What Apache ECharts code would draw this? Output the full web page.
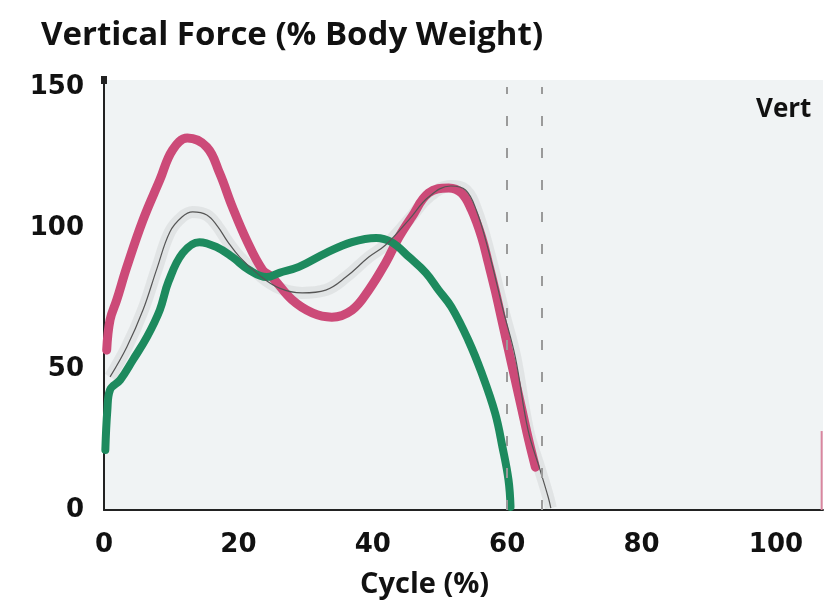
<!DOCTYPE html>
<html>
<head>
<meta charset="utf-8">
<script src="https://cdn.jsdelivr.net/npm/echarts@6/dist/echarts.min.js"></script>
<style>
html, body { margin: 0; padding: 0; background: #fff; }
#chart { width: 826px; height: 606px; }
</style>
</head>
<body>
<div id="chart"></div>
<script>
// tick labels
const xTicks = [0, 20, 40, 60, 80, 100];
const yTicks = [0, 50, 100, 150];

// curves: [cycle %, % body weight]
const pinkData = [
  [0.4, 56.7], [0.9, 67.4], [1.9, 74.5], [3.4, 86.2], [5.8, 102.8], [8.3, 117.0],
  [10.2, 127.7], [12.4, 131.9], [15.3, 128.7], [17.2, 119.5], [19.1, 107.5],
  [21.2, 95.8], [23.6, 85.1], [25.0, 82.6], [28.0, 74.5], [31.0, 69.9],
  [33.9, 68.4], [36.9, 70.9], [39.4, 78.0], [41.9, 87.6], [43.9, 96.8],
  [45.8, 103.9], [48.3, 112.4], [51.3, 114.2], [53.2, 112.4], [54.7, 106.4],
  [56.2, 96.8], [57.2, 87.6], [58.2, 78.0], [59.2, 67.4], [60.2, 56.7],
  [61.2, 46.1], [62.2, 35.5], [63.2, 24.8], [64.2, 15.2]
];
const greenData = [
  [0.2, 21.3], [0.5, 35.5], [0.9, 42.6], [2.4, 46.1], [4.3, 53.2], [6.4, 61.4],
  [8.3, 70.9], [9.6, 81.0], [11.7, 91.1], [14.2, 95.0], [16.7, 93.3],
  [19.1, 89.7], [21.6, 85.1], [24.2, 82.6], [26.1, 84.1], [29.0, 86.2],
  [33.0, 91.1], [36.9, 95.0], [40.5, 96.5], [42.8, 95.0], [45.4, 89.7],
  [47.9, 84.1], [49.8, 78.0], [51.7, 72.0], [54.2, 60.3], [56.2, 48.6],
  [58.2, 34.4], [59.3, 22.3], [60.2, 10.6], [60.5, 1.1]
];
const grayData = [
  [0.9, 47.2], [3.4, 57.8], [5.8, 70.9], [7.9, 85.8], [9.8, 98.6], [11.6, 103.9],
  [13.2, 105.7], [15.3, 104.6], [16.9, 100.6], [18.4, 95.2], [20.2, 89.7], [23.1, 83.3],
  [26.1, 78.7], [29.5, 77.0], [33.0, 78.0], [36.0, 82.6], [39.4, 89.7],
  [41.9, 94.0], [45.4, 103.0], [48.3, 111.0], [51.6, 114.9], [53.8, 113.5],
  [55.4, 106.4], [57.2, 92.2], [59.4, 70.9], [61.2, 54.3], [63.1, 28.4],
  [64.9, 14.2], [66.1, 4.6], [66.5, 0.7]
];
const nextCycleData = [[106.8, 0], [106.8, 28]];
const dashX = [60.0, 65.2];

const chart = echarts.init(document.getElementById('chart'));

const labelFont = {
  fontFamily: 'DejaVu Sans',
  fontWeight: 'bold',
  fontSize: 26,
  color: '#111'
};
const textFont = { fontFamily: 'Open Sans', fontWeight: 'bold', color: '#111' };

const option = {
  backgroundColor: '#fff',
  animation: false,
  title: [
    {
      text: 'Vertical Force (% Body Weight)',
      left: 36,
      top: 14,
      textStyle: Object.assign({}, textFont, { fontSize: 33 })
    },
    {
      text: 'Vert',
      left: 751,
      top: 92,
      textStyle: Object.assign({}, textFont, { fontSize: 26 })
    },
    {
      text: 'Cycle (%)',
      left: 355,
      top: 565,
      textStyle: Object.assign({}, textFont, { fontSize: 29 })
    }
  ],
  grid: {
    left: 104,
    right: 0,
    top: 80,
    bottom: 96,
    show: true,
    backgroundColor: '#f0f3f4',
    borderWidth: 0
  },
  xAxis: {
    type: 'value',
    min: 0,
    max: 107,
    interval: 20,
    axisLine: { lineStyle: { color: '#222', width: 2 } },
    axisTick: { show: false },
    splitLine: { show: false },
    axisLabel: Object.assign({}, labelFont, {
      margin: 22,
      formatter: v => (xTicks.includes(v) ? String(v) : '')
    })
  },
  yAxis: {
    type: 'value',
    min: 0,
    max: 152.5,
    interval: 50,
    axisLine: {
      show: true,
      symbol: ['none', 'rect'],
      symbolSize: [6, 8],
      lineStyle: { color: '#222', width: 2 }
    },
    axisTick: { show: false },
    splitLine: { show: false },
    axisLabel: Object.assign({}, labelFont, {
      margin: 20,
      formatter: v => (yTicks.includes(v) ? String(v) : '')
    })
  },
  series: [
    {
      name: 'guides',
      type: 'line',
      data: [],
      markLine: {
        silent: true,
        symbol: 'none',
        label: { show: false },
        lineStyle: { color: '#9a9a9a', width: 2, type: [10, 22] },
        data: dashX.map(x => [{ coord: [x, 0] }, { coord: [x, 150] }])
      }
    },
    {
      name: 'gray band',
      type: 'line',
      data: grayData,
      smooth: 0.4,
      showSymbol: false,
      lineStyle: { color: 'rgba(120,120,120,0.12)', width: 12 }
    },
    {
      name: 'pink',
      type: 'line',
      data: pinkData,
      smooth: 0.4,
      showSymbol: false,
      lineStyle: { color: '#cc4a78', width: 9, cap: 'round' }
    },
    {
      name: 'green',
      type: 'line',
      data: greenData,
      smooth: 0.4,
      showSymbol: false,
      lineStyle: { color: '#1d8a5e', width: 8, cap: 'round' }
    },
    {
      name: 'gray',
      type: 'line',
      data: grayData,
      smooth: 0.4,
      showSymbol: false,
      lineStyle: { color: '#555', width: 1.2 }
    },
    {
      name: 'next',
      type: 'line',
      data: nextCycleData,
      showSymbol: false,
      lineStyle: { color: '#d9869f', width: 2 }
    }
  ]
};

chart.setOption(option);
</script>
</body>
</html>
